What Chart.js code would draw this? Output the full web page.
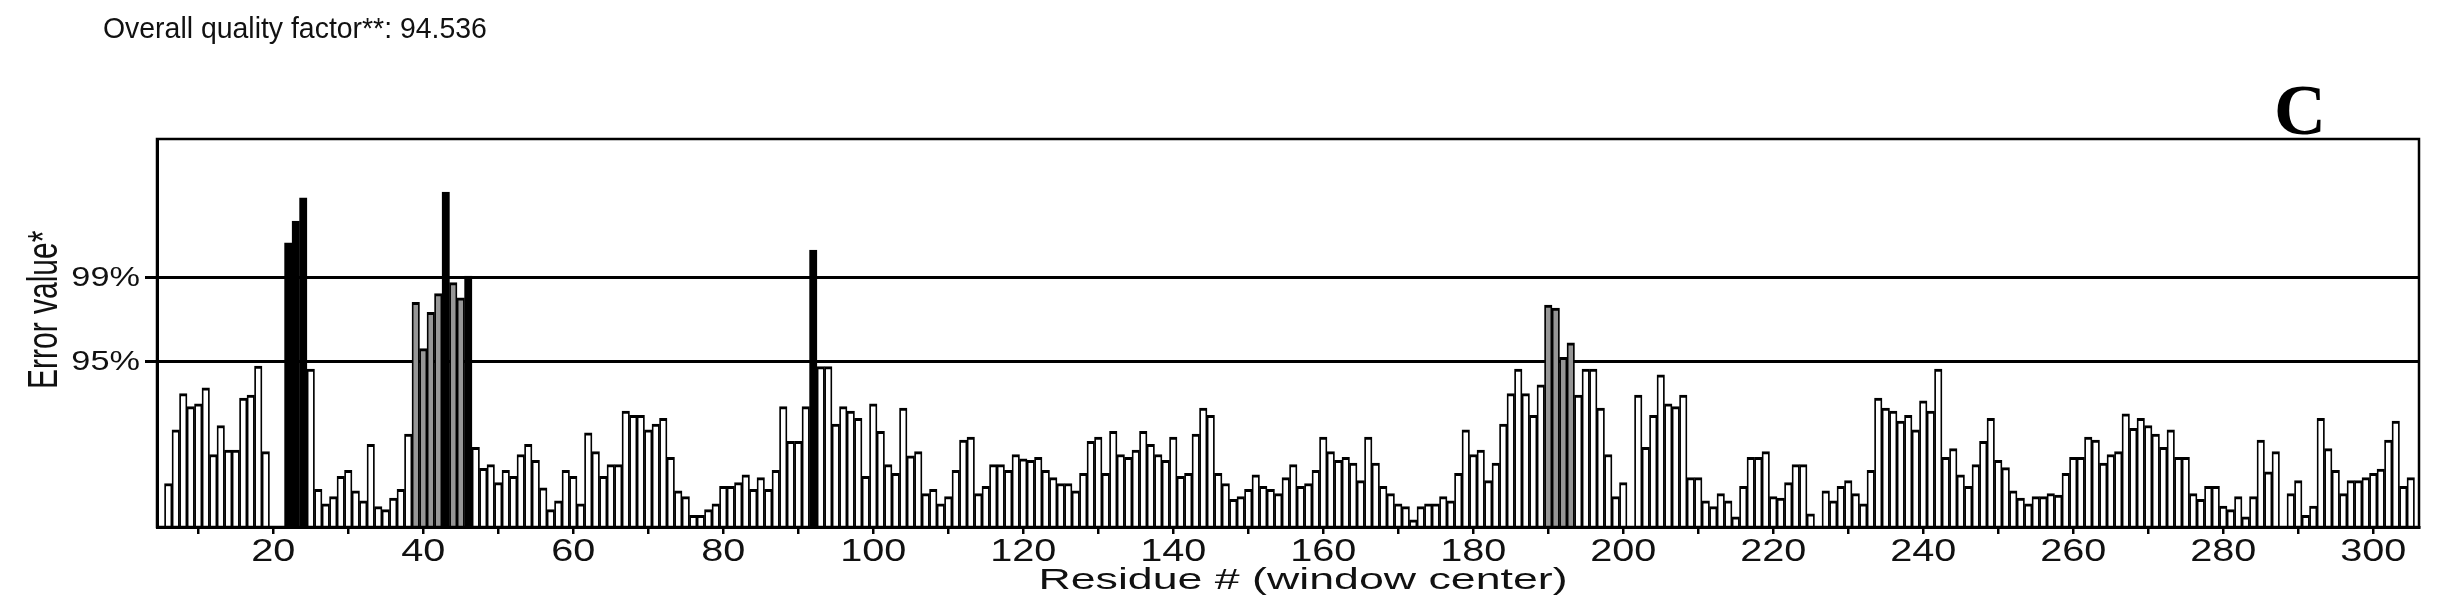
<!DOCTYPE html>
<html>
<head>
<meta charset="utf-8">
<title>ERRAT plot</title>
<script src="https://cdn.jsdelivr.net/npm/chart.js@4.4.1/dist/chart.umd.min.js"></script>
<style>
  html, body { margin: 0; padding: 0; background: #fff; }
  #wrap { width: 2441px; height: 614px; }
</style>
</head>
<body>
<div id="wrap"><canvas id="errat" width="2441" height="614"></canvas></div>
<script>
// error value per residue (window center), first bar is residue 6; null = no window
const firstResidue = 6;
const errorValues = [
  3.0, 6.7, 9.2, 8.3, 8.5, 9.6, 5.0, 7.0, 5.3, 5.3,          // 6-15
  8.9, 9.1, 11.1, 5.2, null, null, 19.6, 21.1, 22.7, 10.9,   // 16-25
  2.6, 1.6, 2.1, 3.5, 3.9, 2.5, 1.8, 5.7, 1.4, 1.2,          // 26-35
  2.0, 2.6, 6.4, 15.5, 12.3, 14.8, 16.1, 23.1, 16.85, 15.8,  // 36-45
  17.3, 5.5, 4.05, 4.3, 3.06, 3.9, 3.5, 5.0, 5.7, 4.6,       // 46-55
  2.7, 1.2, 1.8, 3.9, 3.5, 1.6, 6.5, 5.2, 3.5, 4.3,          // 56-65
  4.3, 8.0, 7.7, 7.7, 6.7, 7.1, 7.5, 4.8, 2.5, 2.1,          // 66-75
  0.8, 0.8, 1.2, 1.6, 2.8, 2.8, 3.06, 3.6, 2.6, 3.4,         // 76-85
  2.6, 3.9, 8.3, 5.9, 5.9, 8.3, 19.1, 11.06, 11.06, 7.1,     // 86-95
  8.3, 8.0, 7.5, 3.5, 8.5, 6.6, 4.3, 3.7, 8.2, 4.9,          // 96-105
  5.2, 2.3, 2.6, 1.6, 2.1, 3.9, 6.0, 6.2, 2.3, 2.8,          // 106-115
  4.3, 4.3, 3.9, 5.0, 4.7, 4.6, 4.8, 3.9, 3.4, 3.0,          // 116-125
  3.0, 2.5, 3.7, 5.9, 6.2, 3.7, 6.6, 5.0, 4.8, 5.3,          // 126-135
  6.6, 5.7, 5.0, 4.6, 6.2, 3.5, 3.7, 6.4, 8.2, 7.7,          // 136-145
  3.7, 3.0, 1.9, 2.1, 2.6, 3.6, 2.8, 2.6, 2.3, 3.4,          // 146-155
  4.3, 2.8, 3.0, 3.9, 6.2, 5.2, 4.6, 4.8, 4.4, 3.2,          // 156-165
  6.2, 4.4, 2.8, 2.3, 1.6, 1.4, 0.5, 1.4, 1.6, 1.6,          // 166-175
  2.1, 1.8, 3.7, 6.7, 5.0, 5.3, 3.2, 4.4, 7.1, 9.2,          // 176-185
  10.9, 9.2, 7.7, 9.8, 15.3, 15.1, 11.7, 12.7, 9.1, 10.9,    // 186-195
  10.9, 8.2, 5.0, 2.1, 3.06, null, 9.1, 5.5, 7.7, 10.5,      // 196-205
  8.5, 8.3, 9.1, 3.4, 3.4, 1.8, 1.4, 2.3, 1.8, 0.7,          // 206-215
  2.8, 4.8, 4.8, 5.2, 2.1, 2.0, 3.06, 4.3, 4.3, 0.9,         // 216-225
  null, 2.5, 1.8, 2.8, 3.2, 2.3, 1.6, 3.9, 8.9, 8.2,         // 226-235
  8.0, 7.3, 7.7, 6.7, 8.7, 8.0, 10.9, 4.8, 5.4, 3.6,         // 236-245
  2.8, 4.3, 5.9, 7.5, 4.6, 4.1, 2.5, 2.0, 1.6, 2.1,          // 246-255
  2.1, 2.3, 2.2, 3.7, 4.8, 4.8, 6.2, 6.0, 4.4, 5.0,          // 256-265
  5.2, 7.8, 6.8, 7.5, 7.0, 6.4, 5.5, 6.7, 4.8, 4.8,          // 266-275
  2.3, 1.9, 2.8, 2.8, 1.45, 1.2, 2.1, 0.7, 2.1, 6.0,         // 276-285
  3.8, 5.2, null, 2.3, 3.2, 0.8, 1.45, 7.5, 5.4, 3.9,        // 286-295
  2.3, 3.2, 3.2, 3.4, 3.7, 4.0, 6.0, 7.3, 2.8, 3.4           // 296-305
];

// rejection limits drawn as the two horizontal lines
const thresholdValues = [11.38, 17.19];
const thresholdLabels = ["95%", "99%"];

const xMin = 4.5;
const xMax = 306.1;
const yMax = 26.76;

const qualityTitle = "Overall quality factor**: 94.536";
const panelLetter = "C";
const xTitle = "Residue # (window center)";
const yTitle = "Error value*";

const points = errorValues.map((v, i) => ({ x: firstResidue + i, y: v }));

function barColor(ctx) {
  const v = ctx.raw ? ctx.raw.y : null;
  if (v == null) return "#fff";
  if (v > thresholdValues[1]) return "#000";
  if (v > thresholdValues[0]) return "#969696";
  return "#fff";
}

const SANS = '"Liberation Sans", Arial, Helvetica, sans-serif';

// the source picture is stretched sideways, so axis text gets a horizontal scale
function wideText(ctx, text, x, y, sx, align, baseline) {
  ctx.save();
  ctx.translate(x, y);
  ctx.scale(sx, 1);
  ctx.textAlign = align;
  ctx.textBaseline = baseline;
  ctx.fillText(text, 0, 0);
  ctx.restore();
}

const decorations = {
  id: "decorations",
  afterDraw(chart) {
    const ctx = chart.ctx;
    const a = chart.chartArea;
    const xs = chart.scales.x;
    const ys = chart.scales.y;
    ctx.save();
    ctx.strokeStyle = "#000";
    ctx.lineWidth = 2.5;
    ctx.strokeRect(a.left, a.top, a.right - a.left, a.bottom - a.top);

    ctx.fillStyle = "#111";
    ctx.font = "29px " + SANS;
    wideText(ctx, qualityTitle, 103, 38, 0.98, "left", "alphabetic");

    // x tick labels every 20 residues
    ctx.font = "32px " + SANS;
    xs.ticks.forEach((t) => {
      if (t.value % 20 !== 0) return;
      wideText(ctx, String(t.value), xs.getPixelForValue(t.value), 561, 1.24, "center", "alphabetic");
    });

    // y tick labels at the limits
    ctx.font = "27px " + SANS;
    thresholdValues.forEach((v, i) => {
      wideText(ctx, thresholdLabels[i], 140, ys.getPixelForValue(v) + 1, 1.27, "right", "middle");
    });

    ctx.font = "30px " + SANS;
    wideText(ctx, xTitle, (a.left + a.right) / 2 + 15, 589, 1.49, "center", "alphabetic");

    ctx.save();
    ctx.translate(57, 389);
    ctx.scale(1.4, 1);
    ctx.rotate(-Math.PI / 2);
    ctx.font = "30px " + SANS;
    ctx.textAlign = "left";
    ctx.textBaseline = "alphabetic";
    ctx.fillText(yTitle, 0, 0);
    ctx.restore();

    ctx.fillStyle = "#000";
    ctx.font = 'bold 72px "Liberation Serif", "Times New Roman", serif';
    wideText(ctx, panelLetter, 2300, 134, 1, "center", "alphabetic");
    ctx.restore();
  }
};

Chart.defaults.font.family = SANS;
Chart.defaults.color = "#000";

new Chart(document.getElementById("errat").getContext("2d"), {
  type: "bar",
  data: {
    datasets: [{
      data: points,
      backgroundColor: barColor,
      borderColor: "#000",
      borderWidth: { top: 3, left: 1.8, right: 1.8, bottom: 0 },
      barPercentage: 1,
      categoryPercentage: 1
    }]
  },
  options: {
    responsive: false,
    animation: false,
    devicePixelRatio: 1,
    layout: { padding: { top: 139, right: 22, left: 0, bottom: 0 } },
    plugins: {
      legend: { display: false },
      tooltip: { enabled: false }
    },
    scales: {
      x: {
        type: "linear",
        min: xMin,
        max: xMax,
        offset: false,
        afterFit(scale) { scale.height = 87; },
        grid: {
          offset: false,
          drawOnChartArea: false,
          drawTicks: true,
          tickLength: 7,
          color: "#000",
          lineWidth: 2.5
        },
        border: { display: true, color: "#000", width: 3 },
        ticks: {
          display: false,
          stepSize: 10,
          includeBounds: false,
          autoSkip: false,
          maxRotation: 0
        }
      },
      y: {
        min: 0,
        max: yMax,
        afterFit(scale) { scale.width = 157; },
        afterBuildTicks(scale) {
          scale.ticks = thresholdValues.map((v) => ({ value: v }));
        },
        grid: {
          color: "#000",
          lineWidth: 3,
          tickLength: 12,
          drawTicks: true
        },
        border: { display: true, color: "#000", width: 3 },
        ticks: { display: false }
      }
    }
  },
  plugins: [decorations]
});
</script>
</body>
</html>
